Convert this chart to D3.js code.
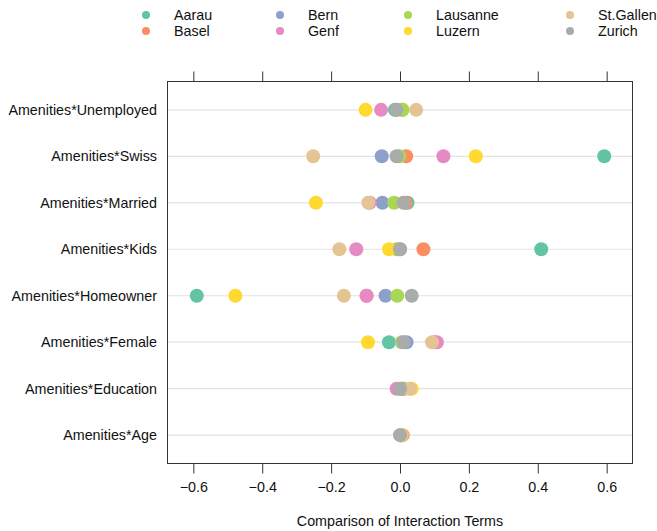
<!DOCTYPE html>
<html>
<head>
<meta charset="utf-8">
<script src="https://cdn.jsdelivr.net/npm/d3@7"></script>
<style>
  html, body { margin: 0; padding: 0; background: #fff; }
  svg { display: block; font-family: "Liberation Sans", Arial, Helvetica, sans-serif; }
</style>
</head>
<body>
<svg id="chart" width="657" height="531"></svg>
<script>
// Interaction terms (top to bottom) and the cities compared
const terms = [
  "Amenities*Unemployed", "Amenities*Swiss", "Amenities*Married", "Amenities*Kids",
  "Amenities*Homeowner", "Amenities*Female", "Amenities*Education", "Amenities*Age"
];
const cities = ["Aarau", "Basel", "Bern", "Genf", "Lausanne", "Luzern", "St.Gallen", "Zurich"];
const cityColors = ["#62C4A5", "#FC8D62", "#8DA0CB", "#E78AC3", "#A6D854", "#FFD92F", "#E5C494", "#AAACAB"];

// Coefficient per city, one value for each term in the order above
const aarau     = [-0.015,  0.593,  0.022,  0.410, -0.590, -0.032,  0.005, 0.004];
const basel     = [-0.010,  0.018,  0.016,  0.068, -0.097,  0.100,  0.010, 0.008];
const bern      = [ 0.005, -0.053, -0.051,  0.000, -0.042,  0.019,  0.008, 0.003];
const genf      = [-0.055,  0.126, -0.088, -0.127, -0.097,  0.107, -0.010, 0.002];
const lausanne  = [ 0.008, -0.002, -0.017, -0.010, -0.008,  0.005,  0.006, 0.003];
const luzern    = [-0.100,  0.220, -0.244, -0.032, -0.478, -0.093,  0.034, 0.005];
const stgallen  = [ 0.047, -0.252, -0.092, -0.176, -0.163,  0.093,  0.029, 0.004];
const zurich    = [-0.010, -0.010,  0.010,  0.000,  0.034,  0.010,  0.000, 0.000];
const seriesValues = [aarau, basel, bern, genf, lausanne, luzern, stgallen, zurich];

const xTicks = [-0.6, -0.4, -0.2, 0.0, 0.2, 0.4, 0.6];
const xTitle = "Comparison of Interaction Terms";

const FS = 14.3;
const svg = d3.select("#chart");
const plot = { left: 167.5, right: 632.5, top: 81.5, bottom: 463.5 };

const x = d3.scaleLinear().domain([-0.675, 0.675]).range([plot.left, plot.right]);
const y = d3.scalePoint().domain(terms).range([plot.top, plot.bottom]).padding(0.61);

// horizontal reference lines
svg.append("g").selectAll("line").data(terms).join("line")
  .attr("x1", plot.left).attr("x2", plot.right)
  .attr("y1", d => y(d)).attr("y2", d => y(d))
  .attr("stroke", "#e3e3e3").attr("stroke-width", 1.2);

// points: one layer per city, later cities on top
const pts = svg.append("g");
cities.forEach((c, i) => {
  pts.append("g").selectAll("circle").data(seriesValues[i]).join("circle")
    .attr("cx", d => x(d))
    .attr("cy", (d, j) => y(terms[j]))
    .attr("r", 7)
    .attr("fill", cityColors[i]);
});

// frame
svg.append("rect")
  .attr("x", plot.left).attr("y", plot.top)
  .attr("width", plot.right - plot.left).attr("height", plot.bottom - plot.top)
  .attr("fill", "none").attr("stroke", "#333").attr("stroke-width", 1);

const fmt = d => d3.format(".1f")(d).replace("-", "\u2212");

// bottom axis
const bottomAxis = svg.append("g")
  .attr("transform", `translate(0,${plot.bottom})`)
  .call(d3.axisBottom(x).tickValues(xTicks).tickSize(10).tickSizeOuter(0).tickPadding(8).tickFormat(fmt));
bottomAxis.select(".domain").remove();
bottomAxis.selectAll("line").attr("stroke", "#333");
bottomAxis.selectAll("text").attr("font-size", FS).attr("fill", "#111")
  .attr("font-family", "Liberation Sans, Arial, sans-serif");

// top axis: ticks only
const topAxis = svg.append("g")
  .attr("transform", `translate(0,${plot.top})`)
  .call(d3.axisTop(x).tickValues(xTicks).tickSize(10).tickSizeOuter(0).tickFormat(""));
topAxis.select(".domain").remove();
topAxis.selectAll("line").attr("stroke", "#333");

// term labels
svg.append("g").selectAll("text").data(terms).join("text")
  .attr("x", plot.left - 10.5)
  .attr("y", d => y(d))
  .attr("dy", "0.35em")
  .attr("text-anchor", "end")
  .attr("font-size", FS)
  .attr("fill", "#111")
  .text(d => d);

// axis title
svg.append("text")
  .attr("x", x(0)).attr("y", 526)
  .attr("text-anchor", "middle")
  .attr("font-size", FS)
  .attr("fill", "#111")
  .text(xTitle);

// legend: four columns of two
const legendCols = [146, 280, 408, 570];
const legendRows = [15, 31];
const legend = svg.append("g");
cities.forEach((c, i) => {
  const cx = legendCols[Math.floor(i / 2)];
  const cy = legendRows[i % 2];
  legend.append("circle").attr("cx", cx).attr("cy", cy).attr("r", 4).attr("fill", cityColors[i]);
  legend.append("text").attr("x", cx + 28).attr("y", cy).attr("dy", "0.35em")
    .attr("font-size", FS).attr("fill", "#111").text(c);
});
</script>
</body>
</html>
